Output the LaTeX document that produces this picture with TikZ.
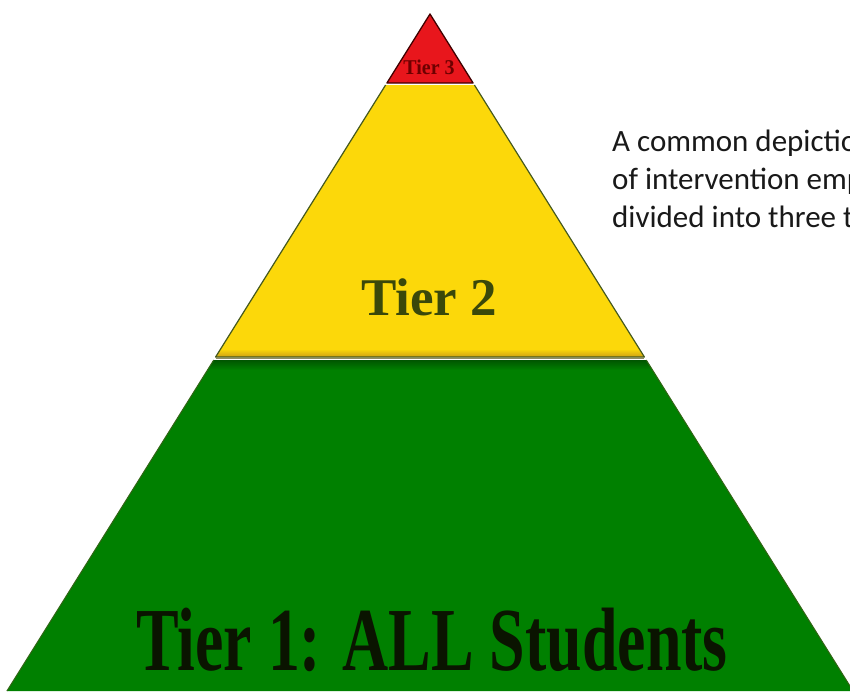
\documentclass[tikz,border=0pt]{standalone}
\usepackage{fontspec}
\setmainfont{Liberation Serif}
\newfontfamily\calibri{Carlito}
\definecolor{tierred}{RGB}{232,22,28}
\definecolor{tieryellow}{RGB}{252,216,10}
\definecolor{tiergreen}{RGB}{0,128,0}
\definecolor{edgeolive}{RGB}{70,90,30}
\definecolor{darkgold}{RGB}{205,160,20}
\definecolor{darkgrn}{RGB}{0,85,0}
\definecolor{tiertwotext}{RGB}{58,72,10}
\definecolor{tierthreetext}{RGB}{110,0,0}
\definecolor{tieronetext}{RGB}{10,20,0}
\tikzset{
  tierlabel/.style={font=\bfseries, inner sep=0pt, anchor=base},
  notetext/.style={font=\calibri\fontsize{31}{38}\selectfont, inner sep=0pt, anchor=base west, text=black!90},
  tieredge/.style={draw=edgeolive, line width=1.2pt, line join=round}
}
\begin{document}
\begin{tikzpicture}[x=1pt,y=-1pt]
\useasboundingbox (0,0) rectangle (850,691);
\clip (0,0) rectangle (850,691);
\fill[white] (0,0) rectangle (850,691);
% Tier 1 (green)
\fill[tiergreen] (213.75,360) -- (646.25,360) -- (853.1,691) -- (6.9,691) -- cycle;
\shade[top color=darkgrn, bottom color=tiergreen] (213.75,360) -- (646.25,360) -- (652.5,370) -- (207.5,370) -- cycle;
\draw[draw=edgeolive!70!tiergreen, line width=1pt] (213.75,360) -- (6.9,691);
\draw[draw=edgeolive!70!tiergreen, line width=1pt] (646.25,360) -- (853.1,691);
% Tier 2 (yellow)
\fill[tieryellow] (385.6,85) -- (474.4,85) -- (644.4,357) -- (215.6,357) -- cycle;
\shade[top color=tieryellow, bottom color=darkgold] (220.6,349) -- (639.4,349) -- (644.4,357) -- (215.6,357) -- cycle;
\draw[tieredge] (385.6,85) -- (215.6,357) -- (644.4,357) -- (474.4,85);
\draw[draw=gray!70!olive, line width=1.5pt] (215.6,358.5) -- (644.4,358.5);
% Tier 3 (red)
\fill[tierred] (430,14) -- (473.1,83) -- (386.9,83) -- cycle;
\draw[draw=black!75!red, line width=1.3pt, line join=round] (430,14) -- (473.1,83) -- (386.9,83) -- cycle;
% labels
\node[tierlabel, text=tierthreetext, font=\bfseries\fontsize{21}{21}\selectfont, xscale=0.95] (t3) at (429,74) {Tier 3};
\node[tierlabel, text=tiertwotext, font=\bfseries\fontsize{53}{53}\selectfont] (t2) at (429,315) {Tier 2};
\node[tierlabel, text=tieronetext, font=\bfseries\fontsize{90}{90}\selectfont, xscale=0.71] (t1) at (432,670) {Tier 1: ALL Students};
% note
\node[notetext] (n1) at (612,151) {A common depiction};
\node[notetext] (n2) at (612,189) {of intervention emphasis};
\node[notetext] (n3) at (612,227) {divided into three tiers};
\end{tikzpicture}
\end{document}
